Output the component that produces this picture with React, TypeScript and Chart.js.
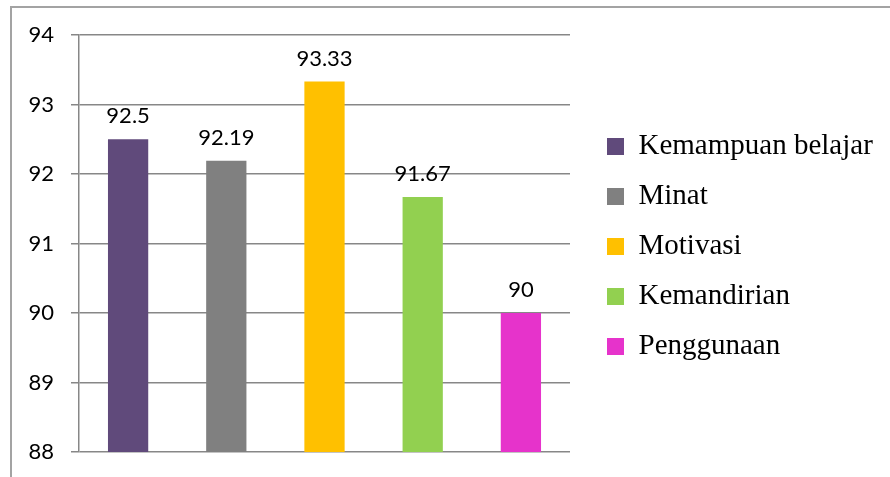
import { useEffect, useRef } from 'react';
import { Chart, registerables } from 'chart.js';

Chart.register(...registerables);

// Survey aspects and their average scores
const categories = ['Kemampuan belajar', 'Minat', 'Motivasi', 'Kemandirian', 'Penggunaan'];
const scores = [92.5, 92.19, 93.33, 91.67, 90];
const barColors = ['#604A7B', '#808080', '#FFC000', '#92D050', '#E633CB'];
const yTicks = [88, 89, 90, 91, 92, 93, 94];

const SANS = 'Lato';
const SERIF = 'Liberation Serif';
const GRID = '#878787';
const LEGEND_SIZE = 29;
const LEGEND_PAD = 21;
const LEGEND_BOX = 17;

// Writes each score just above its bar
const valueLabels = {
  id: 'valueLabels',
  afterDatasetsDraw(chart: any) {
    const { ctx } = chart;
    const meta = chart.getDatasetMeta(0);
    ctx.save();
    ctx.font = `22px ${SANS}`;
    ctx.fillStyle = '#000';
    ctx.textAlign = 'center';
    ctx.textBaseline = 'alphabetic';
    meta.data.forEach((bar: any, i: number) => {
      ctx.fillText(String(scores[i]), bar.x, bar.y - 16);
    });
    ctx.restore();
  },
};

export default function App() {
  const canvasRef = useRef<HTMLCanvasElement | null>(null);

  useEffect(() => {
    const canvas = canvasRef.current;
    if (!canvas) return;

    // Legend width follows its longest label so the plot keeps its right edge
    const m = canvas.getContext('2d')!;
    m.font = `${LEGEND_SIZE}px "${SERIF}"`;
    const widest = Math.max(...categories.map((c) => m.measureText(c).width));
    const legendWidth = Math.floor(LEGEND_PAD + LEGEND_BOX + LEGEND_SIZE / 2 + widest + 10) - 1;
    const rightPad = 890 - 586 - legendWidth;

    const chart = new Chart(canvas, {
      type: 'bar',
      data: {
        labels: categories,
        datasets: [
          {
            data: scores,
            backgroundColor: barColors,
            borderWidth: 0,
            categoryPercentage: 1,
            barPercentage: 0.41,
          },
        ],
      },
      options: {
        animation: false,
        responsive: false,
        layout: { padding: { top: 35, bottom: 25, left: 0, right: rightPad } },
        plugins: {
          tooltip: { enabled: false },
          legend: {
            position: 'right',
            align: 'center',
            maxWidth: legendWidth,
            onClick: () => {},
            title: { display: true, text: '', font: { size: 6, lineHeight: 1 }, padding: 0 },
            labels: {
              boxWidth: LEGEND_BOX,
              boxHeight: LEGEND_BOX,
              padding: LEGEND_PAD,
              color: '#000',
              font: { family: SERIF, size: LEGEND_SIZE },
              generateLabels: () =>
                categories.map((name, i) => ({
                  text: name,
                  fillStyle: barColors[i],
                  strokeStyle: barColors[i],
                  fontColor: '#000',
                  lineWidth: 0,
                  hidden: false,
                  index: i,
                  datasetIndex: 0,
                })),
            },
          },
        },
        scales: {
          x: { display: false },
          y: {
            min: yTicks[0],
            max: yTicks[yTicks.length - 1],
            ticks: {
              stepSize: 1,
              padding: 17,
              color: '#000',
              font: { family: SANS, size: 22 },
            },
            grid: { color: GRID, lineWidth: 1.5, tickLength: 8, drawTicks: true },
            border: { display: true, color: GRID, width: 1.5 },
            afterFit: (s: any) => {
              s.width = 79;
              s.paddingTop = 0;
              s.paddingBottom = 0;
            },
          },
          gap: {
            type: 'linear',
            position: 'right',
            display: true,
            grid: { display: false },
            border: { display: false },
            ticks: { display: false },
            afterFit: (s: any) => {
              s.width = 16;
            },
          },
        },
      },
      plugins: [valueLabels],
    } as any);
    return () => chart.destroy();
  }, []);

  return (
    <div
      style={{
        position: 'absolute',
        left: 0,
        top: 0,
        width: 890,
        height: 477,
        overflow: 'hidden',
        background: '#fff',
      }}
    >
      <div
        style={{
          position: 'absolute',
          left: 10,
          top: 6,
          width: 1000,
          height: 1000,
          borderTop: '2px solid #a3a3a3',
          borderLeft: '2px solid #a3a3a3',
        }}
      />
      <canvas
        ref={canvasRef}
        width={890}
        height={477}
        style={{ position: 'absolute', left: 0, top: 0, display: 'block' }}
      />
    </div>
  );
}
